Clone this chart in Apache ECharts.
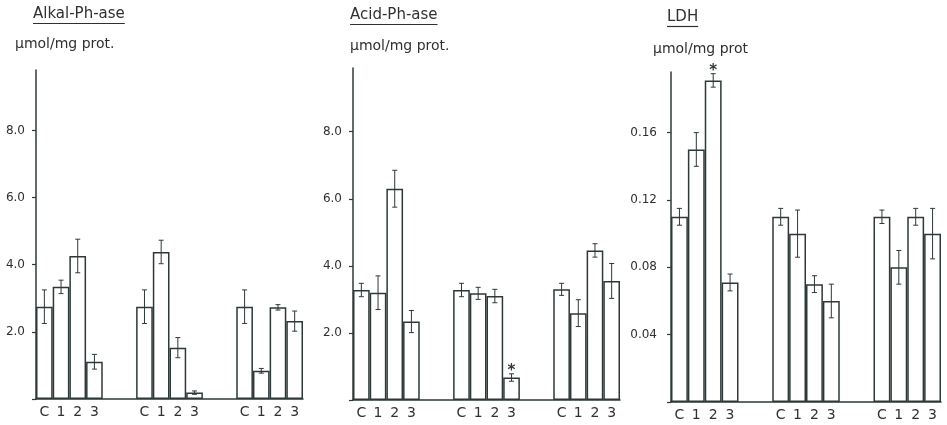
<!DOCTYPE html>
<html>
<head>
<meta charset="utf-8">
<script src="https://cdn.jsdelivr.net/npm/echarts@6/dist/echarts.min.js"></script>
<style>
html,body{margin:0;padding:0;background:#fff;}
#chart{width:947px;height:425px;}
</style>
</head>
<body>
<div id="chart"></div>
<script>
// ---- data ----
const categories = ['C','1','2','3','','','C','1','2','3','','','C','1','2','3'];
const panelTitles = ['Alkal-Ph-ase','Acid-Ph-ase','LDH'];
const unitLabel = 'µmol/mg prot.';
const unitLabelLDH = 'µmol/mg prot';

const alkalValues = [2.75,3.34,4.26,1.11,null,null,2.75,4.38,1.53,0.19,null,null,2.75,0.84,2.73,2.32];
const alkalErrors = [0.50,0.20,0.50,0.22,null,null,0.50,0.35,0.30,0.05,null,null,0.50,0.07,0.08,0.30];
const alkalSignif = [];

const acidValues = [3.28,3.20,6.30,2.34,null,null,3.28,3.18,3.10,0.67,null,null,3.30,2.59,4.46,3.55];
const acidErrors = [0.20,0.50,0.55,0.33,null,null,0.20,0.18,0.20,0.11,null,null,0.18,0.40,0.20,0.52];
const acidSignif = [9];

const ldhValues = [0.110,0.150,0.191,0.071,null,null,0.110,0.100,0.070,0.060,null,null,0.110,0.080,0.110,0.100];
const ldhErrors = [0.005,0.010,0.004,0.005,null,null,0.005,0.014,0.005,0.010,null,null,0.004,0.010,0.005,0.015];
const ldhSignif = [2];

const alkalTicks = {max: 9.8, interval: 2, digits: 1};
const acidTicks = {max: 9.9, interval: 2, digits: 1};
const ldhTicks = {max: 0.196, interval: 0.04, digits: 2};

// ---- styling ----
const INK = '#2e3838';
const TXT = '#303030';
const FONT = 'DejaVu Sans';

const panels = [
  {vals: alkalValues, errs: alkalErrors, sig: alkalSignif, ticks: alkalTicks, grid: {left: 36, top: 70, width: 267, height: 329}, labelMargin: 11},
  {vals: acidValues, errs: acidErrors, sig: acidSignif, ticks: acidTicks, grid: {left: 353, top: 68, width: 267, height: 332}, labelMargin: 11},
  {vals: ldhValues, errs: ldhErrors, sig: ldhSignif, ticks: ldhTicks, grid: {left: 671, top: 72, width: 270, height: 330}, labelMargin: 14}
];

const chart = echarts.init(document.getElementById('chart'), null, {renderer: 'canvas'});

const grids = [], xAxes = [], yAxes = [], series = [];
panels.forEach((p, i) => {
  grids.push(Object.assign({outerBoundsMode: 'none', containLabel: false}, p.grid));
  xAxes.push({
    type: 'category', gridIndex: i, data: categories, boundaryGap: true,
    axisLine: {show: true, lineStyle: {color: INK, width: 1.5}},
    axisTick: {show: false},
    axisLabel: {color: TXT, fontFamily: FONT, fontSize: 14, margin: 6, interval: 0}
  });
  yAxes.push({
    type: 'value', gridIndex: i, min: 0, max: p.ticks.max, interval: p.ticks.interval,
    axisLine: {show: true, lineStyle: {color: INK, width: 1.5}},
    axisTick: {show: true, inside: false, length: 4, lineStyle: {color: INK, width: 1.2}},
    splitLine: {show: false},
    axisLabel: {
      color: TXT, fontFamily: FONT, fontSize: 12, margin: p.labelMargin, showMaxLabel: false,
      formatter: v => (v === 0 ? '' : v.toFixed(p.ticks.digits))
    }
  });
  series.push({
    type: 'bar', xAxisIndex: i, yAxisIndex: i, barWidth: '100%', barCategoryGap: 0,
    data: p.vals.map(v => (v == null ? '-' : v)),
    itemStyle: {color: '#ffffff', borderColor: INK, borderWidth: 1.5},
    silent: true, animation: false
  });
  const errData = [];
  p.vals.forEach((v, k) => {
    if (v != null) errData.push([k, v, p.errs[k], p.sig.indexOf(k) >= 0 ? 1 : 0]);
  });
  series.push({
    type: 'custom', xAxisIndex: i, yAxisIndex: i, data: errData, silent: true, animation: false, z: 5,
    renderItem: function (params, api) {
      const idx = api.value(0), v = api.value(1), e = api.value(2), s = api.value(3);
      const top = api.coord([idx, v + e]);
      const bot = api.coord([idx, v - e]);
      const x = top[0];
      const cap = 2.5;
      const st = {stroke: INK, lineWidth: 1};
      const children = [
        {type: 'line', shape: {x1: x, y1: top[1], x2: x, y2: bot[1]}, style: st},
        {type: 'line', shape: {x1: x - cap, y1: top[1], x2: x + cap, y2: top[1]}, style: st},
        {type: 'line', shape: {x1: x - cap, y1: bot[1], x2: x + cap, y2: bot[1]}, style: st}
      ];
      if (s) {
        children.push({type: 'text', x: x, y: top[1] - 3,
          style: {text: '*', font: 'bold 15px "' + FONT + '"', fill: INK, align: 'center', verticalAlign: 'middle'}});
      }
      return {type: 'group', children: children};
    }
  });
});

// titles with underline and unit labels
const ctx = document.createElement('canvas').getContext('2d');
const TITLE_FONT = '15px "' + FONT + '"';
ctx.font = TITLE_FONT;
const titlePos = [{x: 33, y: 16}, {x: 350, y: 17}, {x: 667, y: 19}];
const unitPos = [{x: 15, y: 46}, {x: 350, y: 48}, {x: 653, y: 51}];
const graphic = [];
panelTitles.forEach((t, i) => {
  const w = ctx.measureText(t).width;
  graphic.push({type: 'text', left: titlePos[i].x, top: titlePos[i].y - 9,
    style: {text: t, font: TITLE_FONT, fill: TXT}});
  graphic.push({type: 'line', shape: {x1: titlePos[i].x, y1: titlePos[i].y + 7.5, x2: titlePos[i].x + w, y2: titlePos[i].y + 7.5},
    style: {stroke: TXT, lineWidth: 1.2}});
  graphic.push({type: 'text', left: unitPos[i].x, top: unitPos[i].y - 9,
    style: {text: i === 2 ? unitLabelLDH : unitLabel, font: '14px "' + FONT + '"', fill: TXT}});
});

chart.setOption({
  animation: false,
  backgroundColor: '#ffffff',
  grid: grids, xAxis: xAxes, yAxis: yAxes, series: series, graphic: graphic
});
</script>
</body>
</html>
